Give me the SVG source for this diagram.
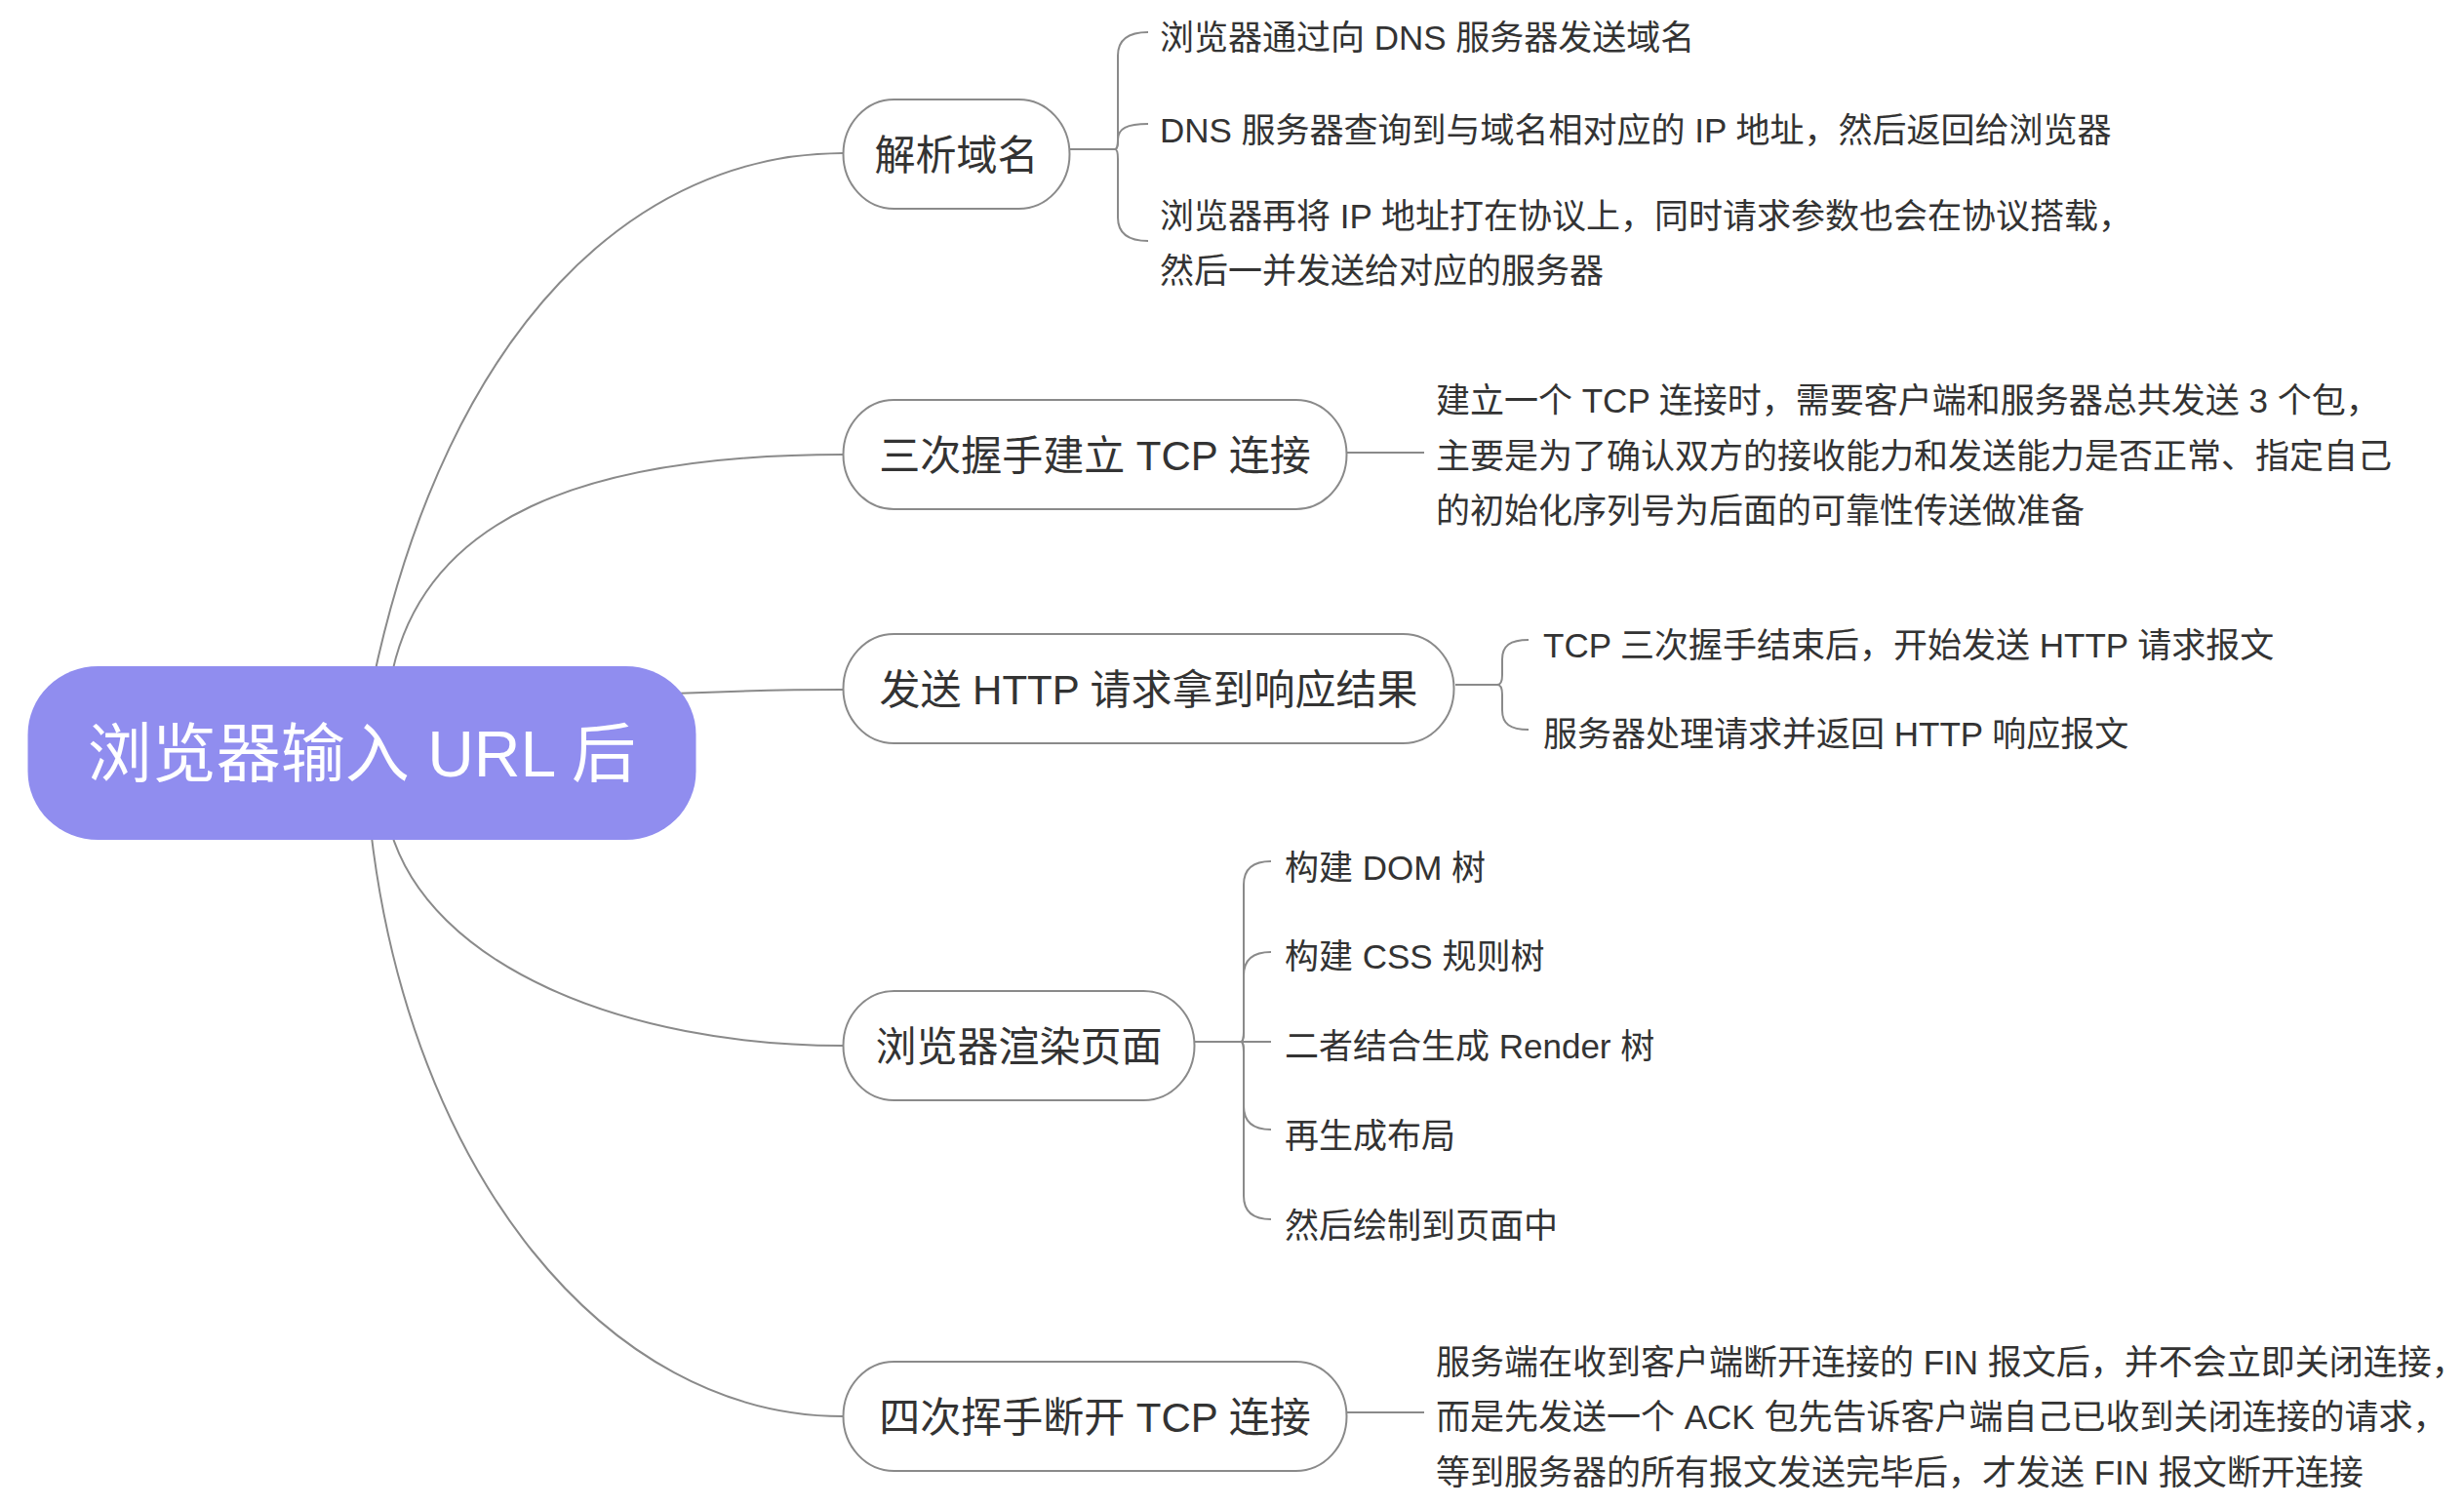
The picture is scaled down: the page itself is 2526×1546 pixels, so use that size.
<svg xmlns="http://www.w3.org/2000/svg" width="2526" height="1546" viewBox="0 0 2526 1546">
<style>
.bg{fill:#ffffff}
.conn{fill:none;stroke:#8a8a8a;stroke-width:2}
.node{fill:#ffffff;stroke:#8a8a8a;stroke-width:2}
.root{fill:#908DEF}
.t{font-family:"Liberation Sans","Noto Sans CJK SC",sans-serif;fill:#333333}
.rt{font-family:"Liberation Sans","Noto Sans CJK SC",sans-serif;fill:#ffffff;font-size:66px;text-anchor:middle}
.nt{font-size:42px;text-anchor:middle}
.ct{font-size:35px}
</style>
<rect class="bg" x="0" y="0" width="2526" height="1546"/>
<g id="connectors">
  <path class="conn" d="M382,700 C460,330 655,157 864,157"/>
  <path class="conn" d="M400,700 C430,530 600,466 864,466"/>
  <path class="conn" d="M690,711 C760,708 800,707 864,707"/>
  <path class="conn" d="M400,850 C440,990 640,1072 864,1072"/>
  <path class="conn" d="M380,850 C420,1200 620,1452 864,1452"/>
  <path class="conn" d="M1097,153 L1143,153"/>
  <path class="conn" d="M1143,153 C1145,153 1146,150 1146,143 L1146,57 C1146,41 1156,33 1177,33"/>
  <path class="conn" d="M1143,153 C1145,153 1146,150 1146,145 L1146,143 C1146,132 1155,127 1177,127"/>
  <path class="conn" d="M1143,153 C1145,153 1146,156 1146,163 L1146,223 C1146,239 1156,247 1177,247"/>
  <path class="conn" d="M1381,464 L1460,464"/>
  <path class="conn" d="M1492,702 L1535,702"/>
  <path class="conn" d="M1535,702 C1538,702 1540,699 1540,692 L1540,676 C1540,662 1548,656 1567,656"/>
  <path class="conn" d="M1535,702 C1538,702 1540,705 1540,712 L1540,728 C1540,742 1548,748 1567,748"/>
  <path class="conn" d="M1225,1068 L1303,1068"/>
  <path class="conn" d="M1272,1068 C1274,1068 1275,1065 1275,1058 L1275,907 C1275,891 1284,883 1303,883"/>
  <path class="conn" d="M1272,1068 C1274,1068 1275,1065 1275,1058 L1275,1000 C1275,984 1284,976 1303,976"/>
  <path class="conn" d="M1272,1068 C1274,1068 1275,1071 1275,1078 L1275,1134 C1275,1150 1284,1158 1303,1158"/>
  <path class="conn" d="M1272,1068 C1274,1068 1275,1071 1275,1078 L1275,1226 C1275,1242 1284,1250 1303,1250"/>
  <path class="conn" d="M1381,1448 L1460,1448"/>
</g>
<g id="root">
  <rect class="root" x="28.5" y="683" width="685" height="178" rx="72" ry="70"/>
  <text class="rt" x="371" y="796">浏览器输入 URL 后</text>
</g>
<g id="n1">
  <rect class="node" x="864.5" y="102" width="232" height="112" rx="52" ry="56"/>
  <text class="t nt" x="980.5" y="173.5">解析域名</text>
</g>
<g id="n2">
  <rect class="node" x="864.5" y="410" width="516" height="112" rx="52" ry="56"/>
  <text class="t nt" x="1122.5" y="481.5">三次握手建立 TCP 连接</text>
</g>
<g id="n3">
  <rect class="node" x="864.5" y="650" width="626" height="112" rx="52" ry="56"/>
  <text class="t nt" x="1177.5" y="721.5">发送 HTTP 请求拿到响应结果</text>
</g>
<g id="n4">
  <rect class="node" x="864.5" y="1016" width="360" height="112" rx="52" ry="56"/>
  <text class="t nt" x="1044.5" y="1087.5">浏览器渲染页面</text>
</g>
<g id="n5">
  <rect class="node" x="864.5" y="1396" width="516" height="112" rx="52" ry="56"/>
  <text class="t nt" x="1122.5" y="1467.5">四次挥手断开 TCP 连接</text>
</g>
<g id="n1-c1"><text class="t ct" x="1189" y="50.5">浏览器通过向 DNS 服务器发送域名</text></g>
<g id="n1-c2"><text class="t ct" x="1189" y="145.5">DNS 服务器查询到与域名相对应的 IP 地址，然后返回给浏览器</text></g>
<g id="n1-c3">
  <text class="t ct" x="1189" y="233.5">浏览器再将 IP 地址打在协议上，同时请求参数也会在协议搭载，</text>
  <text class="t ct" x="1189" y="290">然后一并发送给对应的服务器</text>
</g>
<g id="n2-c1">
  <text class="t ct" x="1472" y="423">建立一个 TCP 连接时，需要客户端和服务器总共发送 3 个包，</text>
  <text class="t ct" x="1472" y="479.5">主要是为了确认双方的接收能力和发送能力是否正常、指定自己</text>
  <text class="t ct" x="1472" y="536">的初始化序列号为后面的可靠性传送做准备</text>
</g>
<g id="n3-c1"><text class="t ct" x="1582" y="674">TCP 三次握手结束后，开始发送 HTTP 请求报文</text></g>
<g id="n3-c2"><text class="t ct" x="1582" y="765">服务器处理请求并返回 HTTP 响应报文</text></g>
<g id="n4-c1"><text class="t ct" x="1317" y="902">构建 DOM 树</text></g>
<g id="n4-c2"><text class="t ct" x="1317" y="993">构建 CSS 规则树</text></g>
<g id="n4-c3"><text class="t ct" x="1317" y="1085">二者结合生成 Render 树</text></g>
<g id="n4-c4"><text class="t ct" x="1317" y="1177">再生成布局</text></g>
<g id="n4-c5"><text class="t ct" x="1317" y="1269">然后绘制到页面中</text></g>
<g id="n5-c1">
  <text class="t ct" x="1472" y="1408.5">服务端在收到客户端断开连接的 FIN 报文后，并不会立即关闭连接，</text>
  <text class="t ct" x="1472" y="1465">而是先发送一个 ACK 包先告诉客户端自己已收到关闭连接的请求，</text>
  <text class="t ct" x="1472" y="1521.5">等到服务器的所有报文发送完毕后，才发送 FIN 报文断开连接</text>
</g>
</svg>
